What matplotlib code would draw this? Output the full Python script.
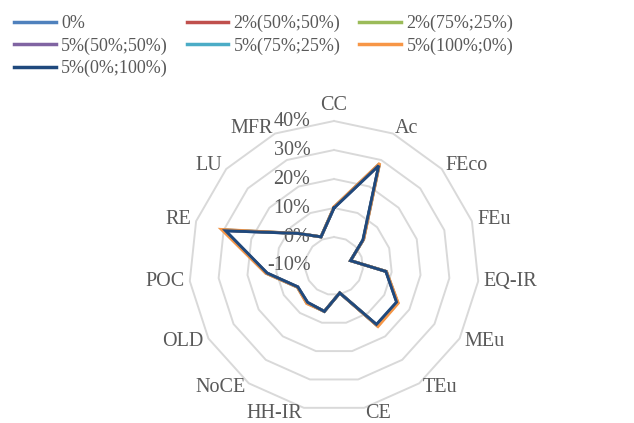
import numpy as np
import matplotlib
matplotlib.use('Agg')
import matplotlib.pyplot as plt

plt.rcParams['font.family'] = ['Liberation Serif', 'DejaVu Serif']

categories = ['CC', 'Ac', 'FEco', 'FEu', 'EQ-IR', 'MEu', 'TEu', 'CE',
              'HH-IR', 'NoCE', 'OLD', 'POC', 'RE', 'LU', 'MFR']
series_names = ['0%', '2%(50%;50%)', '2%(75%;25%)', '5%(50%;50%)',
                '5%(75%;25%)', '5%(100%;0%)', '5%(0%;100%)']
colors = ['#4F81BD', '#C0504D', '#9BBB59', '#8064A2', '#4BACC6', '#F79646', '#1F497D']

# values in %
s_0      = [10.0, 28.0, 3.5, -4.0, 8.0, 15.0, 15.0, -0.5, 6.0, 5.5, 4.4, 13.2, 29.3, 6.8, 1.0]
s_2_5050 = [10.1, 28.2, 3.6, -4.0, 8.1, 15.1, 15.2, -0.5, 6.0, 5.6, 4.5, 13.3, 29.7, 6.8, 1.0]
s_2_7525 = [10.2, 28.3, 3.6, -4.0, 8.1, 15.2, 15.3, -0.5, 6.0, 5.7, 4.5, 13.4, 30.0, 6.8, 1.0]
s_5_5050 = [10.2, 28.4, 3.7, -4.0, 8.1, 15.3, 15.5, -0.5, 6.0, 5.8, 4.5, 13.5, 30.2, 6.8, 1.0]
s_5_7525 = [10.3, 28.6, 3.7, -4.0, 8.2, 15.4, 15.6, -0.5, 6.0, 5.9, 4.6, 13.6, 30.5, 6.8, 1.0]
s_5_1000 = [10.4, 28.8, 3.8, -4.0, 8.2, 15.6, 15.8, -0.5, 6.0, 6.0, 4.6, 13.7, 30.8, 6.8, 1.0]
s_5_0100 = [10.0, 27.9, 3.4, -4.0, 8.0, 14.9, 14.9, -0.5, 6.0, 5.5, 4.4, 13.2, 29.3, 6.8, 1.0]
series = [s_0, s_2_5050, s_2_7525, s_5_5050, s_5_7525, s_5_1000, s_5_0100]

r_ticks = [-10, 0, 10, 20, 30, 40]
r_labels = ['-10%', '0%', '10%', '20%', '30%', '40%']

W, H = 634, 423
fig = plt.figure(figsize=(W / 100, H / 100), dpi=100)
cx, cy, rad = 334, 266, 145
ax = fig.add_axes([(cx - rad) / W, (H - cy - rad) / H, 2 * rad / W, 2 * rad / H],
                  projection='polar')
ax.set_theta_zero_location('N')
ax.set_theta_direction(-1)
ax.set_ylim(r_ticks[0], r_ticks[-1])
ax.grid(False)
ax.spines['polar'].set_visible(False)
ax.set_xticks([])
ax.set_yticks([])
ax.patch.set_alpha(0)

n = len(categories)
theta = np.linspace(0, 2 * np.pi, n, endpoint=False)
th_closed = np.append(theta, theta[0])

grid_col = '#D9D9D9'
for r in r_ticks[1:]:
    ax.plot(th_closed, [r] * (n + 1), color=grid_col, lw=1.4, clip_on=False, zorder=1)

for vals, col in zip(series, colors):
    v = list(vals) + [vals[0]]
    ax.plot(th_closed, v, color=col, lw=2.1, clip_on=False, zorder=3,
            solid_joinstyle='miter')

txt_col = '#595959'
d = 4.0
for t, cat in zip(theta, categories):
    s, c = np.sin(t), np.cos(t)
    ha = 'left' if s > 0.1 else ('right' if s < -0.1 else 'center')
    va = 'bottom' if c > 0.99 else 'center'
    ax.annotate(cat, xy=(t, r_ticks[-1]), xytext=(d * s, d * c),
                textcoords='offset points', ha=ha, va=va, fontsize=14.5,
                color=txt_col, annotation_clip=False)

for r, lab in zip(r_ticks, r_labels):
    ax.annotate(lab, xy=(0, r), xytext=(-17, 0), textcoords='offset points',
                ha='right', va='center', fontsize=14.5, color=txt_col,
                annotation_clip=False, zorder=2)

handles = [plt.Line2D([], [], color=c, lw=2.5) for c in colors]
order = [0, 3, 6, 1, 4, 2, 5]
leg = fig.legend([handles[i] for i in order], [series_names[i] for i in order],
                 loc='upper left', bbox_to_anchor=(14 / W, 1 - 15 / H), ncol=3,
                 frameon=False, fontsize=13, handlelength=2.3, handletextpad=0.3,
                 columnspacing=1.05, labelspacing=0.28, borderaxespad=0, borderpad=0)
for t in leg.get_texts():
    t.set_color(txt_col)

fig.savefig('out.png', dpi=100)
